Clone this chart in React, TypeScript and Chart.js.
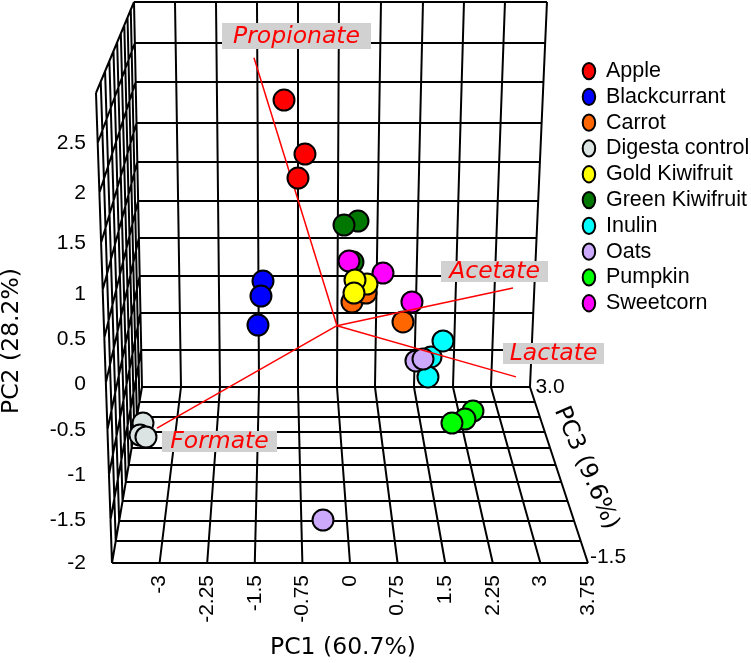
import React, { useEffect, useRef } from "react";
import { Chart, registerables } from "chart.js";

Chart.register(...registerables);

// ---- data (in the plot plane's PC1 / PC2 units) ----
const seriesNames = ["Apple","Blackcurrant","Carrot","Digesta control","Gold Kiwifruit","Green Kiwifruit","Inulin","Oats","Pumpkin","Sweetcorn"];
const seriesColors = ["#ff0000","#0000ff","#ff6600","#dce3e3","#ffff00","#007700","#00ffff","#cca9fa","#00ff00","#ff00ff"];
const seriesLayers = [65,65,60,65,50,80,40,30,65,70];

const apple = [[-1.039,2.975],[-0.709,2.395],[-0.819,2.137]];
const blackcurrant = [[-1.370,1.030],[-1.402,0.869],[-1.449,0.557]];
const carrot = [[0.835,0.590],[0.031,0.805],[0.252,0.901]];
const digesta = [[-3.260,-0.496],[-3.307,-0.625],[-3.213,-0.646]];
const gold = [[0.268,0.998],[0.079,1.041],[0.063,0.901]];
const green = [[0.126,1.675],[-0.094,1.632],[0.047,1.234]];
const inulin = [[1.276,0.214],[1.465,0.386],[1.228,-0.001]];
const oats = [[1.039,0.171],[1.150,0.192],[-0.425,-1.538]];
const pumpkin = [[1.937,-0.367],[1.811,-0.453],[1.606,-0.496]];
const sweetcorn = [[-0.016,1.245],[0.520,1.116],[0.976,0.805]];
const allSeries = [apple,blackcurrant,carrot,digesta,gold,green,inulin,oats,pumpkin,sweetcorn];

const vectorOrigin = [-0.205,0.550];
const vectorNames = ["Propionate","Acetate","Lactate","Formate"];
const vectorEnds = [[-1.512,3.430],[2.567,0.955],[2.614,0.000],[-3.039,-0.550]];

const pc1Ticks = [-3,-2.25,-1.5,-0.75,0,0.75,1.5,2.25,3,3.75];
const pc2Labels = ["-2","-1.5","-1","-0.5","0","0.5","1","1.5","2","2.5"];
const pc2TickPlane = [-2,-1.538,-1.054,-0.570,-0.075,0.408,0.892,1.437,1.975,2.513];

// ---- frame of the 3D box, in canvas pixels, mapped to plane units below ----
const X_PER = 63.5, X_ZERO = 350, Y_PER = 563 / 6.05;
const planeX = (p: number) => (p - X_ZERO) / X_PER;
const planeY = (p: number) => -2 + (563 - p) / Y_PER;

const backTopX = [134,175,216,257,298,339,381,423,464,505,547];
const backBottomX = [142,181,220,259,298,337,375,414,453,491,530];
const frontX = [112,159.6,207.2,254.8,302.4,350,397.6,445.2,492.8,540.4,588];
const backLevelY = [2,43,82,123,162,201,238,276,313,350,387];
const frontLevelY = [93,143,193,243,290,338,383,430,475,520,563];
const floorDepthY = [387,402,417,432,448,465,482,501,521,541,563];
const wallBackX = [134,142];
const wallFrontX = [96,112];

type P = { x: number; y: number | null };

function gridPath(): P[] {
  const out: P[] = [];
  const seg = (a: number[], b: number[]) => {
    out.push({ x: planeX(a[0]), y: planeY(a[1]) });
    out.push({ x: planeX(b[0]), y: planeY(b[1]) });
    out.push({ x: planeX(b[0]), y: null });
  };
  const lerp = (a: number, b: number, t: number) => a + (b - a) * t;
  // back wall
  backTopX.forEach((x, i) => seg([x, backLevelY[0]], [backBottomX[i], 387]));
  backLevelY.forEach((y) => {
    const t = (y - 2) / 385;
    seg([lerp(134, 142, t), y], [lerp(547, 530, t), y]);
  });
  // floor
  backBottomX.forEach((x, i) => seg([x, 387], [frontX[i], 563]));
  floorDepthY.forEach((y) => {
    const t = (y - 387) / 176;
    seg([lerp(142, 112, t), y], [lerp(530, 588, t), y]);
  });
  // left wall
  floorDepthY.forEach((y) => {
    const t = (y - 387) / 176;
    seg([lerp(wallBackX[0], wallFrontX[0], t), lerp(2, 93, t)], [lerp(wallBackX[1], wallFrontX[1], t), y]);
  });
  backLevelY.forEach((y, k) => {
    const s = (y - 2) / 385;
    seg([lerp(wallBackX[0], wallBackX[1], s), y], [lerp(wallFrontX[0], wallFrontX[1], s), frontLevelY[k]]);
  });
  return out;
}

const vectorPath = (ends: number[][]): P[] => {
  const out: P[] = [];
  ends.forEach((e) => {
    out.push({ x: vectorOrigin[0], y: vectorOrigin[1] });
    out.push({ x: e[0], y: e[1] });
    out.push({ x: e[0], y: null });
  });
  return out;
};

const vectorBoxes = [
  { x0: 222, x1: 371, y0: 23, y1: 49 },
  { x0: 441, x1: 548, y0: 261, y1: 282 },
  { x0: 503, x1: 604, y0: 343, y1: 364 },
  { x0: 162, x1: 277, y0: 431, y1: 452 },
];

const textPlugin = {
  id: "boxText",
  afterLayout(chart: any) {
    const lg = chart.legend;
    lg.left = 578.4;
    lg.top = 56;
    lg.right = 751;
    lg.bottom = 663;
    lg.width = 751 - 578.4;
    lg.height = 663 - 56;
    // the box fills the canvas from its very top down to the floor's front edge
    const ys = chart.scales.y;
    ys.top = 0;
    ys.bottom = 563;
    ys.height = 563;
    ys.configure();
    ys._labelItems = null;
    chart.chartArea.top = 0;
    chart.chartArea.bottom = 563;
    chart.chartArea.height = 563;
  },
  afterDraw(chart: any) {
    const ctx = chart.ctx;
    ctx.save();
    ctx.textBaseline = "middle";
    ctx.textAlign = "center";
    vectorNames.forEach((n, i) => {
      const b = vectorBoxes[i];
      ctx.fillStyle = "#d1d1d1";
      ctx.fillRect(b.x0, b.y0, b.x1 - b.x0, b.y1 - b.y0);
      ctx.fillStyle = "#ff0000";
      ctx.font = "italic 23.5px 'DejaVu Sans'";
      ctx.fillText(n, (b.x0 + b.x1) / 2, (b.y0 + b.y1) / 2 + 0.5);
    });
    ctx.fillStyle = "#000";
    ctx.font = "21px 'Liberation Sans'";
    ctx.fillText("3.0", 550, 387);
    ctx.fillText("-1.5", 608, 557);
    ctx.font = "23.5px 'DejaVu Sans'";
    ctx.save();
    ctx.translate(586, 468);
    ctx.rotate((66.7 * Math.PI) / 180);
    ctx.fillText("PC3 (9.6%)", 0, 0);
    ctx.restore();
    ctx.save();
    ctx.translate(12, 341);
    ctx.rotate(-Math.PI / 2);
    ctx.fillText("PC2 (28.2%)", 0, 0);
    ctx.restore();
    ctx.restore();
  },
};

export default function App() {
  const ref = useRef<HTMLCanvasElement>(null);
  useEffect(() => {
    const datasets: any[] = allSeries.map((s, i) => ({
      type: "scatter",
      label: seriesNames[i],
      data: s.map((p) => ({ x: p[0], y: p[1] })),
      backgroundColor: seriesColors[i],
      borderColor: "#000",
      borderWidth: 2,
      pointRadius: 10.5,
      pointStyle: "circle",
      order: seriesLayers[i],
      clip: false,
    }));
    const lineDs = (label: string, data: P[], color: string, width: number, order: number) => ({
      type: "line",
      label,
      data,
      borderColor: color,
      borderWidth: width,
      pointRadius: 0,
      spanGaps: false,
      tension: 0,
      order,
      clip: false,
      fill: false,
    });
    datasets.push(lineDs("grid", gridPath(), "#000", 2, 100));
    datasets.push(lineDs("vectorBack", vectorPath(vectorEnds.slice(0, 1)), "#ff0000", 1.5, 90));
    datasets.push(lineDs("vectorFront", vectorPath(vectorEnds.slice(1)), "#ff0000", 1.5, 10));

    const chart = new Chart(ref.current as HTMLCanvasElement, {
      type: "scatter",
      data: { datasets },
      options: {
        responsive: false,
        animation: false,
        devicePixelRatio: 1,
        layout: { autoPadding: false, padding: { left: 0, top: 0, right: 161, bottom: 0 } },
        plugins: {
          tooltip: { enabled: false },
          title: { display: false },
          legend: {
            position: "chartArea",
            align: "start",
            labels: {
              usePointStyle: true,
              boxHeight: 11.5,
              pointStyleWidth: 12.5,
              padding: 4.3,
              color: "#000",
              font: { family: "'Liberation Sans'", size: 21.5 },
              filter: (it: any) => seriesNames.includes(it.text),
              sort: (a: any, b: any) => a.datasetIndex - b.datasetIndex,
            },
          },
        } as any,
        scales: {
          x: {
            type: "linear",
            min: -4,
            max: 3.78,
            grid: { display: false, drawTicks: false },
            border: { display: false },
            afterBuildTicks: (s: any) => { s.ticks = pc1Ticks.map((value) => ({ value })); },
            afterFit: (s: any) => { s.height = 100; },
            ticks: {
              minRotation: 90,
              maxRotation: 90,
              padding: 12,
              autoSkip: false,
              color: "#000",
              font: { family: "'Liberation Sans'", size: 21 },
              callback: (v: any) => String(v),
            },
            title: {
              display: true,
              text: "PC1 (60.7%)",
              color: "#000",
              font: { family: "'DejaVu Sans'", size: 23.5 },
              padding: { top: 0, bottom: 1 },
            },
          },
          y: {
            type: "linear",
            min: -2,
            max: 4.05,
            grid: { display: false, drawTicks: false },
            border: { display: false },
            afterBuildTicks: (s: any) => { s.ticks = pc2TickPlane.map((value) => ({ value })); },
            afterFit: (s: any) => { s.width = 96; },
            afterTickToLabelConversion: (s: any) => {
              s.ticks.forEach((t: any, i: number) => { t.label = pc2Labels[i]; });
            },
            ticks: {
              padding: 10,
              autoSkip: false,
              color: "#000",
              font: { family: "'Liberation Sans'", size: 21 },
            },
          },
        },
      } as any,
      plugins: [textPlugin],
    } as any);
    return () => chart.destroy();
  }, []);
  return (
    <canvas
      ref={ref}
      width={751}
      height={663}
      style={{ position: "absolute", left: 0, top: 0, width: 751, height: 663 }}
    />
  );
}
